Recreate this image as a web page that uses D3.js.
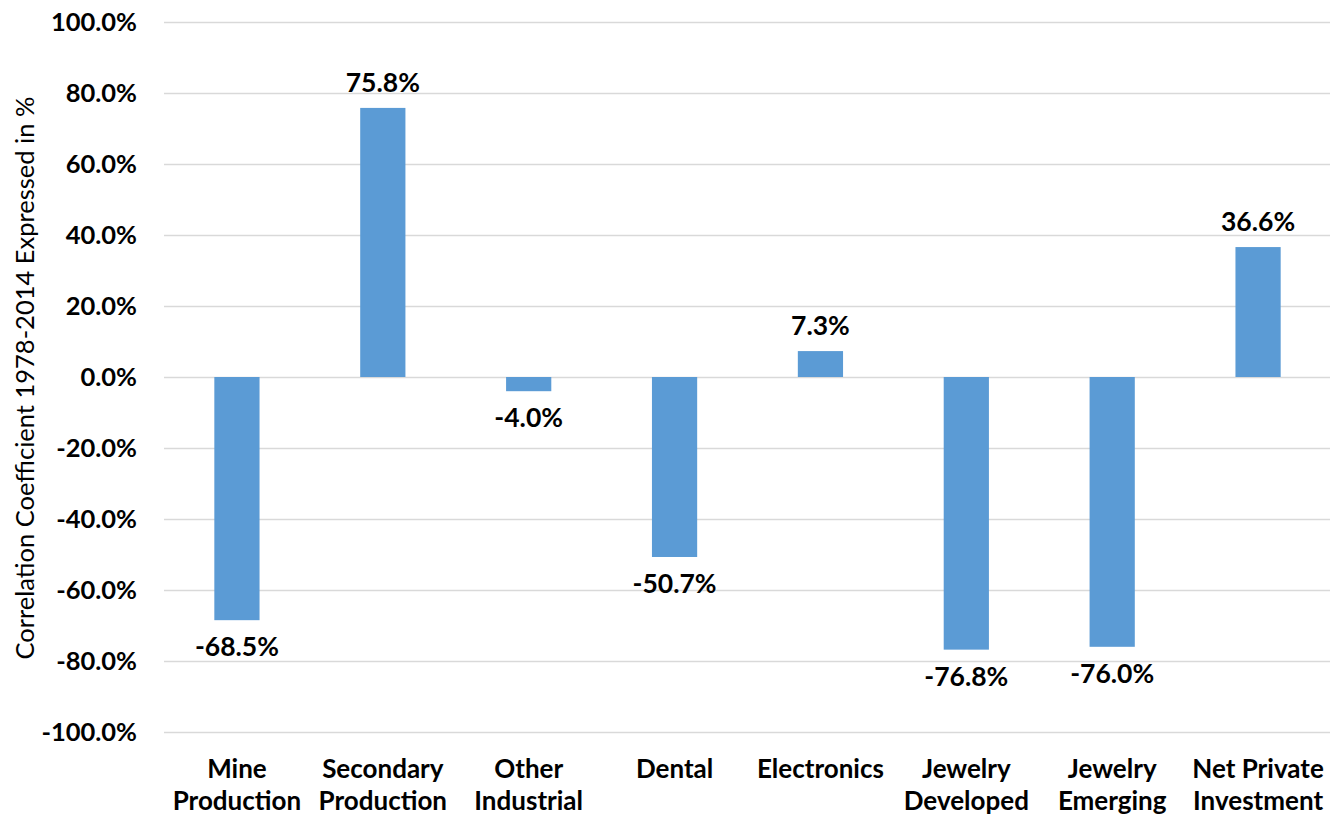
<!DOCTYPE html>
<html>
<head>
<meta charset="utf-8">
<script src="https://cdn.jsdelivr.net/npm/d3@7"></script>
<style>
  html, body { margin: 0; padding: 0; background: #fff; }
  svg text { font-family: Lato, "Open Sans", sans-serif; fill: #000; }
</style>
</head>
<body>
<svg id="chart" width="1330" height="815"></svg>
<script>
// Correlation of gold supply/demand components with price, 1978-2014
const categories = [
  ["Mine", "Production"],
  ["Secondary", "Production"],
  ["Other", "Industrial"],
  ["Dental"],
  ["Electronics"],
  ["Jewelry", "Developed"],
  ["Jewelry", "Emerging"],
  ["Net Private", "Investment"]
];
const values = [-68.5, 75.8, -4.0, -50.7, 7.3, -76.8, -76.0, 36.6];
const yTicks = [100, 80, 60, 40, 20, 0, -20, -40, -60, -80, -100];
const yTitle = "Correlation Coefficient 1978-2014 Expressed in %";

const svg = d3.select("#chart");
const plot = { left: 164, right: 1331, top: 22, bottom: 732 };

const x = d3.scaleBand()
  .domain(d3.range(categories.length))
  .range([plot.left, plot.right])
  .paddingInner(0.69)
  .paddingOuter(0.345);

const y = d3.scaleLinear()
  .domain([-100, 100])
  .range([plot.bottom, plot.top]);

// Horizontal gridlines
svg.append("g")
  .selectAll("line")
  .data(yTicks)
  .join("line")
  .attr("x1", plot.left)
  .attr("x2", plot.right)
  .attr("y1", d => y(d) + 0.5)
  .attr("y2", d => y(d) + 0.5)
  .attr("stroke", "#d9d9d9")
  .attr("stroke-width", 1.3);

// Y axis tick labels
const yAxis = d3.axisLeft(y)
  .tickValues(yTicks)
  .tickSize(0)
  .tickPadding(0)
  .tickFormat(d => d.toFixed(1) + "%");

const gy = svg.append("g")
  .attr("transform", `translate(${plot.left - 27},0)`)
  .call(yAxis);
gy.select(".domain").remove();
gy.selectAll("text")
  .attr("font-size", 25.5)
  .attr("font-weight", 700)
  .attr("font-family", "Lato, sans-serif")
  .attr("fill", "#000")
  .attr("dy", "0.35em");

// Bars
svg.append("g")
  .selectAll("rect")
  .data(values)
  .join("rect")
  .attr("x", (d, i) => x(i))
  .attr("width", x.bandwidth())
  .attr("y", d => y(Math.max(0, d)))
  .attr("height", d => Math.abs(y(d) - y(0)))
  .attr("fill", "#5b9bd5");

// Value labels at bar ends
svg.append("g")
  .selectAll("text")
  .data(values)
  .join("text")
  .attr("x", (d, i) => x(i) + x.bandwidth() / 2)
  .attr("y", d => d >= 0 ? y(d) - 25 : y(d) + 27)
  .attr("dy", "0.35em")
  .attr("text-anchor", "middle")
  .attr("font-size", 26.5)
  .attr("font-weight", 700)
  .text(d => d.toFixed(1) + "%");

// Category labels
const cat = svg.append("g")
  .selectAll("text")
  .data(categories)
  .join("text")
  .attr("x", (d, i) => x(i) + x.bandwidth() / 2)
  .attr("y", 769)
  .attr("text-anchor", "middle")
  .attr("font-size", 26)
  .attr("font-weight", 700);
cat.selectAll("tspan")
  .data(d => d)
  .join("tspan")
  .attr("x", function () { return d3.select(this.parentNode).attr("x"); })
  .attr("dy", (d, i) => i === 0 ? "0.35em" : "32")
  .text(d => d);

// Y axis title
svg.append("text")
  .attr("transform", `translate(25,${(plot.top + plot.bottom) / 2 + 1}) rotate(-90)`)
  .attr("text-anchor", "middle")
  .attr("dy", "0.35em")
  .attr("font-size", 25.5)
  .text(yTitle);
</script>
</body>
</html>
